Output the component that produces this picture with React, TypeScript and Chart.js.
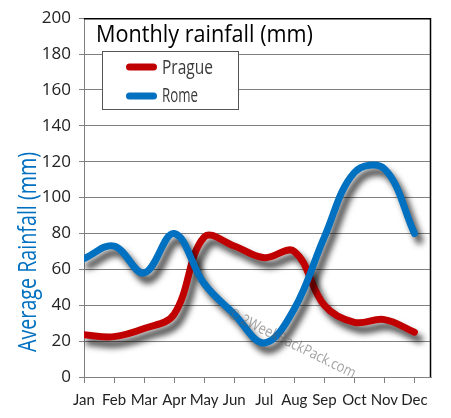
import React, { useEffect, useRef } from "react";
import { Chart, registerables } from "chart.js";

Chart.register(...registerables);

const MONTHS = ["Jan", "Feb", "Mar", "Apr", "May", "Jun", "Jul", "Aug", "Sep", "Oct", "Nov", "Dec"];
const PRAGUE = [23.5, 22.5, 27, 35, 78, 73, 66.5, 70, 40, 30.5, 32, 25];
const ROME = [66, 73, 58, 80, 52, 35, 19, 38, 78, 114, 116, 80];
const SERIES_NAMES = ["Prague", "Rome"];
const SERIES_COLORS = ["#C00000", "#0070C0"];
const Y_MIN = 0;
const Y_MAX = 200;
const Y_STEP = 20;
const TITLE = "Monthly rainfall (mm)";
const Y_TITLE = "Average Rainfall (mm)";
const WATERMARK = "© 2WeekBackPack.com";

const FONT = '"Open Sans", "DejaVu Sans", sans-serif';
const XFONT = 'Lato, "Open Sans", sans-serif';

const decor = {
  id: "decor",
  beforeDatasetsDraw(chart: any) {
    const { ctx, chartArea: a } = chart;
    ctx.save();
    ctx.strokeStyle = "#000";
    ctx.lineWidth = 1.5;
    ctx.beginPath();
    ctx.moveTo(a.left, a.top + 0.5);
    ctx.lineTo(a.right - 0.5, a.top + 0.5);
    ctx.lineTo(a.right - 0.5, a.bottom);
    ctx.stroke();
    ctx.restore();
  },
  beforeDatasetDraw(chart: any) {
    const ctx = chart.ctx;
    ctx.save();
    ctx.shadowColor = "rgba(0,0,0,0.75)";
    ctx.shadowBlur = 6;
    ctx.shadowOffsetX = 5;
    ctx.shadowOffsetY = 7;
  },
  afterDatasetDraw(chart: any) {
    chart.ctx.restore();
  },
  afterDatasetsDraw(chart: any) {
    const { ctx } = chart;
    // watermark
    ctx.save();
    ctx.translate(229, 313);
    ctx.rotate((26 * Math.PI) / 180);
    ctx.fillStyle = "rgba(100,100,100,0.6)";
    ctx.font = `15px ${FONT}`;
    ctx.textBaseline = "middle";
    ctx.fillText(WATERMARK, 0, 0, 140);
    ctx.restore();

    // title
    ctx.save();
    ctx.fillStyle = "#000";
    ctx.font = `24px ${FONT}`;
    ctx.textBaseline = "alphabetic";
    ctx.textAlign = "left";
    ctx.fillText(TITLE, 96, 42, 217);
    ctx.restore();

    // legend box
    ctx.save();
    ctx.fillStyle = "#fff";
    ctx.fillRect(102, 51, 136, 58);
    ctx.strokeStyle = "#555";
    ctx.lineWidth = 1;
    ctx.strokeRect(102.5, 51.5, 136, 58);
    const rows = [
      { y: 67, base: 74, w: 51 },
      { y: 96, base: 102, w: 36 },
    ];
    chart.data.datasets
      .slice()
      .sort((p: any, q: any) => SERIES_NAMES.indexOf(p.label) - SERIES_NAMES.indexOf(q.label))
      .forEach((ds: any, i: number) => {
        const r = rows[i];
        ctx.strokeStyle = ds.borderColor;
        ctx.lineWidth = 7;
        ctx.lineCap = "round";
        ctx.beginPath();
        ctx.moveTo(129.5, r.y);
        ctx.lineTo(153.5, r.y);
        ctx.stroke();
        ctx.fillStyle = "#3a3a3a";
        ctx.font = `20px ${FONT}`;
        ctx.textBaseline = "alphabetic";
        ctx.fillText(ds.label, 162, r.base, r.w);
      });
    ctx.restore();

    // y axis title
    ctx.save();
    ctx.translate(36, 352);
    ctx.rotate(-Math.PI / 2);
    ctx.fillStyle = "#0070C0";
    ctx.font = `26px ${FONT}`;
    ctx.textAlign = "left";
    ctx.textBaseline = "alphabetic";
    ctx.fillText(Y_TITLE, 0, 0, 200);
    ctx.restore();
  },
};

export default function App() {
  const ref = useRef<HTMLCanvasElement | null>(null);

  useEffect(() => {
    if (!ref.current) return;
    const chart = new Chart(ref.current, {
      type: "line",
      data: {
        datasets: [
          {
            label: SERIES_NAMES[0],
            data: PRAGUE.map((v, i) => ({ x: i, y: v })),
            borderColor: SERIES_COLORS[0],
            backgroundColor: SERIES_COLORS[0],
            borderWidth: 7,
            tension: 0.38,
            pointRadius: 0,
            borderCapStyle: "round",
            borderJoinStyle: "round",
            fill: false,
            order: 2,
          },
          {
            label: SERIES_NAMES[1],
            data: ROME.map((v, i) => ({ x: i, y: v })),
            borderColor: SERIES_COLORS[1],
            backgroundColor: SERIES_COLORS[1],
            borderWidth: 7,
            tension: 0.38,
            pointRadius: 0,
            borderCapStyle: "round",
            borderJoinStyle: "round",
            fill: false,
            order: 1,
          },
        ],
      },
      options: {
        responsive: false,
        animation: false,
        layout: { padding: { left: 0, top: 14, right: 20, bottom: 0 } },
        plugins: {
          legend: { display: false },
          tooltip: { enabled: false },
          title: { display: false },
        },
        scales: {
          x: {
            type: "linear",
            min: 0,
            max: 11.55,
            afterBuildTicks: (scale: any) => {
              scale.ticks = MONTHS.map((_, i) => ({ value: i }));
            },
            afterFit: (scale: any) => {
              scale.height = 41;
            },
            ticks: {
              callback: (v: any) => MONTHS[Math.round(Number(v))] ?? "",
              color: "#222",
              font: { family: XFONT, size: 15 },
              padding: 8,
              maxRotation: 0,
              autoSkip: false,
            },
            grid: {
              drawOnChartArea: false,
              drawTicks: true,
              tickLength: 6,
              color: "#808080",
            },
            border: { color: "#808080", width: 1 },
          },
          y: {
            min: Y_MIN,
            max: Y_MAX,
            afterFit: (scale: any) => {
              scale.width = 84;
            },
            ticks: {
              stepSize: Y_STEP,
              color: "#222",
              font: { family: FONT, size: 17 },
              padding: 8,
            },
            grid: {
              color: "#808080",
              lineWidth: 1,
              tickLength: 5,
            },
            border: { color: "#808080", width: 1 },
          },
        },
      },
      plugins: [decor],
    });
    return () => chart.destroy();
  }, []);

  return (
    <div style={{ position: "absolute", left: 0, top: 0, width: 451, height: 418, background: "#fff" }}>
      <canvas ref={ref} width={451} height={418} />
    </div>
  );
}
